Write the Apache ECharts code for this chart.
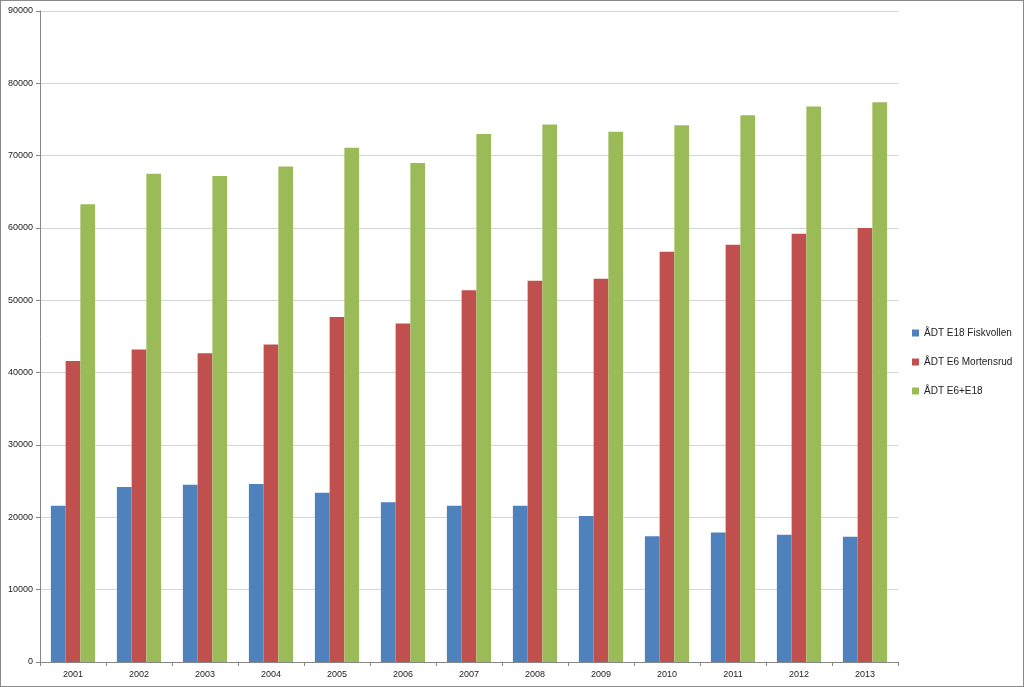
<!DOCTYPE html>
<html>
<head>
<meta charset="utf-8">
<script src="https://cdn.jsdelivr.net/npm/echarts@6/dist/echarts.min.js"></script>
<style>
html,body{margin:0;padding:0;background:#fff;}
#c{width:1024px;height:687px;box-sizing:border-box;border:1px solid #8a8a8a;}
</style>
</head>
<body>
<div id="c"></div>
<script>
const years = ['2001','2002','2003','2004','2005','2006','2007','2008','2009','2010','2011','2012','2013'];
const seriesNames = ['ÅDT E18 Fiskvollen','ÅDT E6 Mortensrud','ÅDT E6+E18'];
const fiskvollen = [21600,24200,24500,24600,23400,22100,21600,21600,20200,17400,17900,17600,17300];
const mortensrud = [41600,43200,42700,43900,47700,46800,51400,52700,53000,56700,57700,59200,60000];
const total = [63300,67500,67200,68500,71100,69000,73000,74300,73300,74200,75600,76800,77400];
const colors = ['#4F81BD','#C0504D','#9BBB59'];

const chart = echarts.init(document.getElementById('c'));
const font = 'Liberation Sans, Arial, sans-serif';
chart.setOption({
  animation: false,
  color: colors,
  textStyle: {fontFamily: font},
  grid: {left: 39, right: 125, top: 10, bottom: 24, containLabel: false},
  legend: {
    orient: 'vertical', left: 906, top: 322,
    itemWidth: 7, itemHeight: 7, itemGap: 19,
    icon: 'rect',
    textStyle: {fontSize: 10, color: '#222', fontFamily: font},
    data: seriesNames
  },
  xAxis: {
    type: 'category', data: years,
    axisLine: {lineStyle: {color: '#868686'}},
    axisTick: {show: true, length: 4, lineStyle: {color: '#868686'}},
    axisLabel: {fontSize: 9, color: '#222', margin: 8}
  },
  yAxis: {
    type: 'value', min: 0, max: 90000, interval: 10000,
    axisLine: {show: true, lineStyle: {color: '#868686'}},
    axisTick: {show: true, length: 4, lineStyle: {color: '#868686'}},
    axisLabel: {fontSize: 9, color: '#222', margin: 7, formatter: function (v) { return String(v); }},
    splitLine: {lineStyle: {color: '#d4d4d4'}}
  },
  series: [
    {name: seriesNames[0], type: 'bar', data: fiskvollen, barGap: '0%', barCategoryGap: '33%'},
    {name: seriesNames[1], type: 'bar', data: mortensrud, barGap: '0%', barCategoryGap: '33%'},
    {name: seriesNames[2], type: 'bar', data: total, barGap: '0%', barCategoryGap: '33%'}
  ]
});
</script>
</body>
</html>
